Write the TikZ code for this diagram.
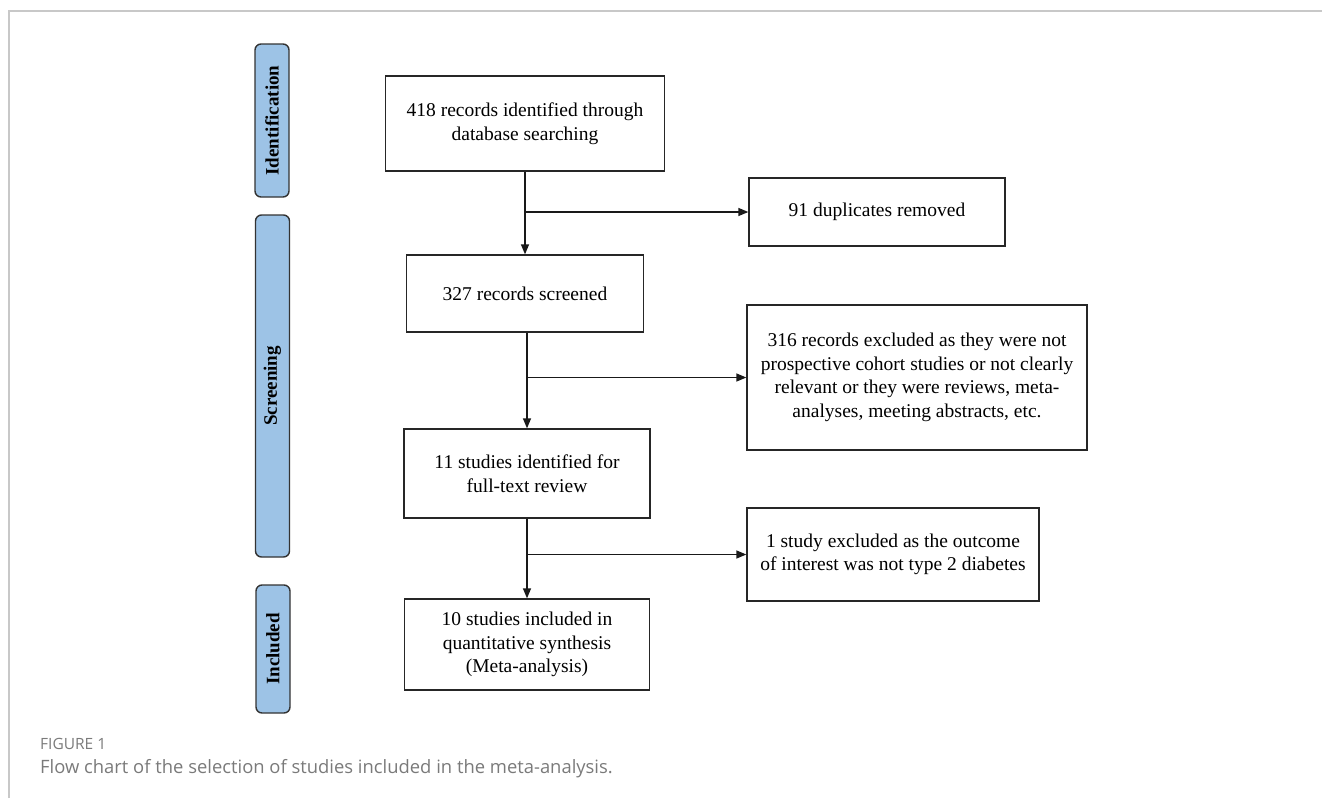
\documentclass[tikz,border=0pt]{standalone}
\usepackage{fontspec}
\setmainfont{Liberation Serif}
\newfontfamily\capfont{Open Sans}
\usetikzlibrary{arrows.meta}
\definecolor{barblue}{HTML}{9DC3E6}
\definecolor{framegray}{HTML}{C8C8C8}
\definecolor{capgray}{HTML}{7A7A7A}
\begin{document}
\begin{tikzpicture}[x=1pt,y=-1pt,
  box/.style={draw=black!85, line width=1.3pt, inner sep=0pt, align=center,
    font=\fontsize{19.5}{23.5}\selectfont},
  stagebar/.style={draw=black!80, line width=1.4pt, fill=barblue, rounded corners=6pt,
    rotate=90, inner sep=0pt, minimum height=34pt,
    font=\fontsize{19}{22}\selectfont\bfseries},
  arr/.style={line width=1.3pt, draw=black!90, -{Triangle[length=10pt,width=8pt]}},
  conn/.style={line width=1.3pt, draw=black!90}]
\useasboundingbox (0,0) rectangle (1322,798);
% frame
\draw[framegray, line width=1.5pt] (9,798) -- (9,11) -- (1322,11);
% stage bars
\node[stagebar, minimum width=153pt] (ident) at (272,120.5) {Identification};
\node[stagebar, minimum width=342pt] (screen) at (272.5,386) {Screening};
\node[stagebar, minimum width=128pt] (incl) at (273,649) {Included};
% main boxes
\node[box, minimum width=279pt, minimum height=95pt] (b1) at (525,123.5) {418 records identified through\\database searching};
\node[box, minimum width=237pt, minimum height=77pt] (b2) at (525,293.5) {327 records screened};
\node[box, minimum width=246pt, minimum height=89pt] (b3) at (527,473.5) {11 studies identified for\\full-text review};
\node[box, minimum width=245pt, minimum height=91pt] (b4) at (527,644.5) {10 studies included in\\quantitative synthesis\\(Meta-analysis)};
% side boxes
\node[box, minimum width=256pt, minimum height=68pt] (dup) at (877,212) {91 duplicates removed};
\node[box, minimum width=340pt, minimum height=145pt] (ex1) at (917,377.5) {316 records excluded as they were not\\prospective cohort studies or not clearly\\relevant or they were reviews, meta-\\analyses, meeting abstracts, etc.};
\node[box, minimum width=292pt, minimum height=93pt] (ex2) at (893,554.5) {1 study excluded as the outcome\\of interest was not type 2 diabetes};
% connectors
\draw[arr] (b1.south) -- (b2.north);
\draw[arr] (b1.south |- dup.west) -- (dup.west);
\draw[arr] (b2.south -| b3.north) -- (b3.north);
\draw[arr] (b3.south |- ex1.west) -- (ex1.west);
\draw[arr] (b3.south) -- (b4.north);
\draw[arr] (b3.south |- ex2.west) -- (ex2.west);
% caption
\node[anchor=base west, inner sep=0pt, text=capgray, font=\capfont\fontsize{15.5}{18}\selectfont] (fig) at (40,749) {FIGURE 1};
\node[anchor=base west, inner sep=0pt, text=capgray, font=\capfont\fontsize{18.4}{22}\selectfont] (cap) at (40,773) {Flow chart of the selection of studies included in the meta-analysis.};
\end{tikzpicture}
\end{document}
